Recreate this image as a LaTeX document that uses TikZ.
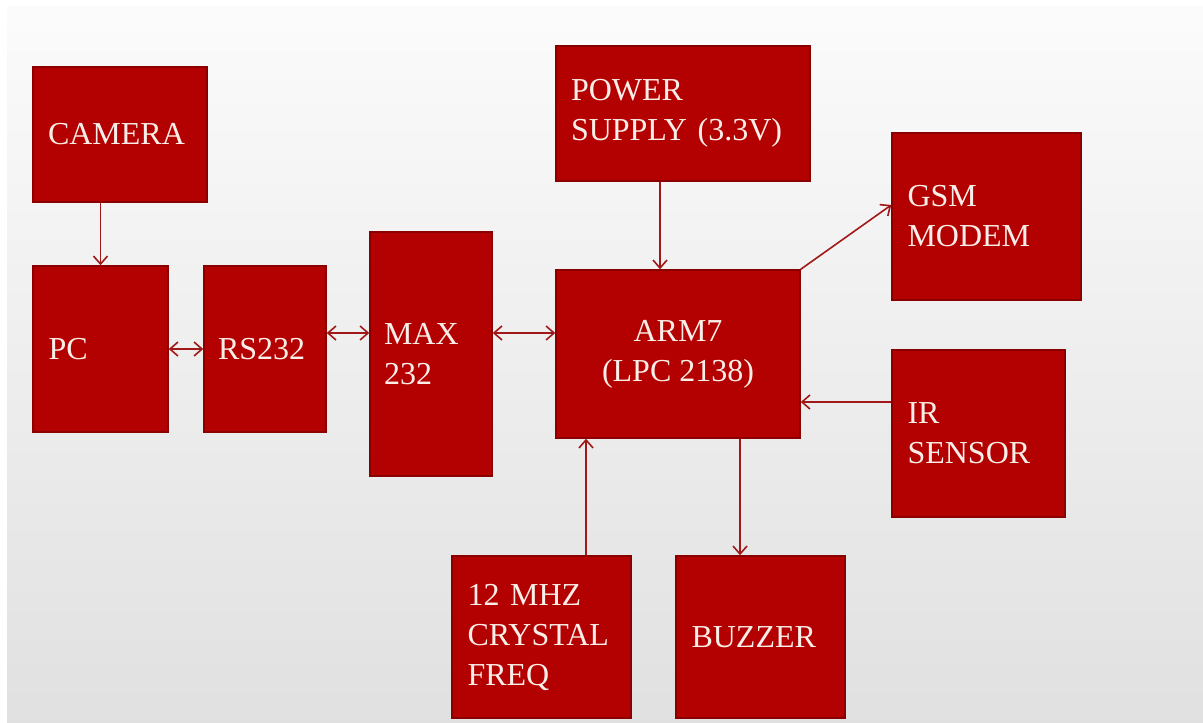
\documentclass[tikz,border=0pt]{standalone}
\usepackage{fontspec}
\setmainfont{Liberation Serif}
\usepackage{xcolor}
\usepackage{tikz}
\usetikzlibrary{arrows.meta}

\definecolor{blkred}{HTML}{B30000}
\definecolor{blkedge}{HTML}{8A0000}
\definecolor{linkred}{HTML}{A01818}
\definecolor{cream}{HTML}{FBEEE8}

\tikzset{
  blk/.style={rectangle, fill=blkred, draw=blkedge, line width=0.75pt,
    text=cream, inner xsep=7.5pt, align=left,
    font=\fontsize{16}{20}\selectfont},
  link/.style={draw=linkred, line width=0.8pt, -{Straight Barb[length=4pt,width=7pt]}},
  twoway/.style={link, {Straight Barb[length=4pt,width=7pt]}-{Straight Barb[length=4pt,width=7pt]}}
}

\begin{document}
\begin{tikzpicture}[x=0.5pt,y=-0.5pt]
\useasboundingbox (0,0) rectangle (1203,722);
\fill[white] (0,0) rectangle (1203,722);
\shade[top color=gray!3, bottom color=gray!24] (7,7) rectangle (1203,722);

% blocks
\node[blk, minimum width=87pt, minimum height=67.5pt, text width=72pt] (cam) at (120,134.5) {CAMERA};
\node[blk, minimum width=67.5pt, minimum height=83pt, text width=52pt] (pc) at (100.5,349) {PC};
\node[blk, minimum width=61pt, minimum height=83pt, text width=47pt, inner xsep=6.5pt] (rs) at (265,349) {RS232};
\node[blk, minimum width=61pt, minimum height=122pt, text width=47pt, inner xsep=7pt] (max) at (431,354) {MAX\\232};
\node[blk, minimum width=122pt, minimum height=84pt, align=center] (arm) at (678,354) {ARM7\\(LPC 2138)};
\node[blk, minimum width=127pt, minimum height=67.5pt, text width=112pt] (pwr) at (683,113.5) {POWER\\SUPPLY (3.3V)};
\node[blk, minimum width=94.5pt, minimum height=83.5pt, text width=79pt] (gsm) at (986.5,216.5) {GSM\\MODEM};
\node[blk, minimum width=86.5pt, minimum height=83.5pt, text width=71pt] (ir) at (978.5,433.5) {IR\\SENSOR};
\node[blk, minimum width=89.5pt, minimum height=81pt, text width=74pt] (xtal) at (541.5,637) {12 MHZ\\CRYSTAL\\FREQ};
\node[blk, minimum width=84.5pt, minimum height=81pt, text width=69pt] (buz) at (760.5,637) {BUZZER};

% connections
\draw[link] (pc |- cam.south) -- (pc.north);
\draw[twoway] (pc.east) -- (rs.west);
\draw[twoway] ([yshift=8pt]rs.east) -- ([yshift=8pt]rs.east -| max.west);
\draw[twoway] ([yshift=10.5pt]max.east) -- ([yshift=10.5pt]max.east -| arm.west);
\draw[link] ([xshift=-11.5pt]pwr.south) -- ([xshift=-11.5pt]pwr.south |- arm.north);
\draw[link] (arm.north east) -- ([yshift=5.75pt]gsm.west);
\draw[link] ([yshift=15.75pt]ir.west) -- ([yshift=15.75pt]ir.west -| arm.east);
\draw[link] ([xshift=22.25pt]xtal.north) -- ([xshift=22.25pt]xtal.north |- arm.south);
\draw[link] ([xshift=-10.25pt]buz.north |- arm.south) -- ([xshift=-10.25pt]buz.north);
\end{tikzpicture}
\end{document}
